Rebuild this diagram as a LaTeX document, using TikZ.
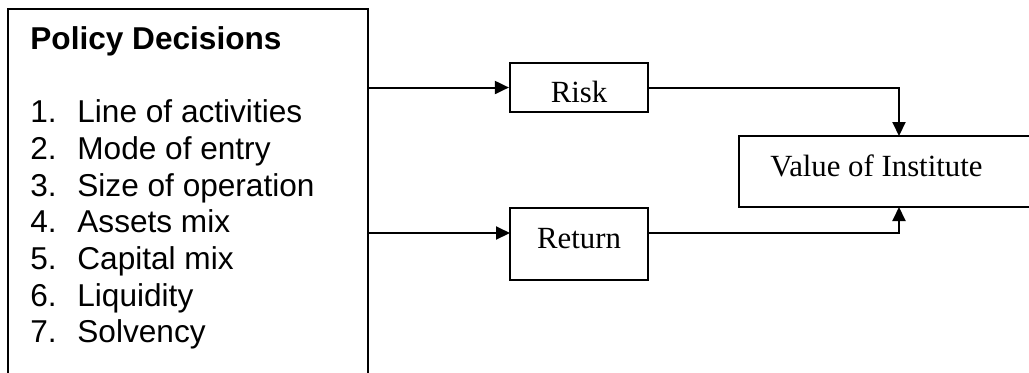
\documentclass[tikz,border=0pt]{standalone}
\usepackage{fontspec}
\setmainfont{Liberation Serif}
\setsansfont{Liberation Sans}
\usetikzlibrary{arrows.meta}

\begin{document}
\begin{tikzpicture}[x=0.5pt, y=-0.5pt,
		box/.style={draw, line width=1.1pt, rectangle, inner sep=0pt},
		txt/.style={inner sep=0pt, font=\fontsize{15.4pt}{18pt}\selectfont},
		item/.style={inner sep=0pt, anchor=base west, font=\sffamily\fontsize{15.8pt}{18pt}\selectfont},
		link/.style={line width=1pt, -{Triangle[length=7pt, width=6.5pt]}}]
			%%%%% START %%%%%
			
			\useasboundingbox (0, 0) rectangle (1029, 372);
			
			\node[box, minimum width=180pt, minimum height=185.5pt] (policy) at (188, 194.5) {};
			\node[item, font=\sffamily\bfseries\fontsize{15.8pt}{18pt}\selectfont] (title) at (30, 49) {Policy Decisions};
			\foreach \n/\t [count=\i from 0] in {1/Line of activities, 2/Mode of entry, 3/Size of operation, 4/Assets mix, 5/Capital mix, 6/Liquidity, 7/Solvency}{
				\node[item] (num\n) at (30, 122.7+36.7*\i) {\n.};
				\node[item] (entry\n) at (77, 122.7+36.7*\i) {\t};
			}
			
			\node[box, minimum width=69pt, minimum height=24.5pt] (risk) at (579, 87.5) {};
			\node[txt, anchor=base] (risktext) at (579, 102) {Risk};
			
			\node[box, minimum width=148pt, minimum height=35.5pt] (value) at (887, 171.5) {};
			\node[txt, anchor=base west] (valuetext) at (770, 176) {Value of Institute};
			
			\node[box, minimum width=69pt, minimum height=36pt] (return) at (579, 244) {};
			\node[txt, anchor=base] (returntext) at (579, 248) {Return};
			
			\coordinate (retin) at (510, 233);
			\coordinate (vtop) at (899, 136);
			\coordinate (vbot) at (899, 207);
			
			\draw[link] (policy.east |- risk.west) -- (risk.west);
			\draw[link] (policy.east |- retin) -- (retin);
			\draw[link] (risk.east) -| (vtop);
			\draw[link] (return.east |- retin) -| (vbot);
			
			%%%%% END %%%%%
		\end{tikzpicture}
\end{document}
